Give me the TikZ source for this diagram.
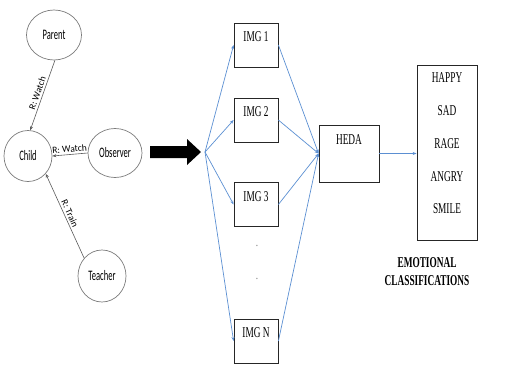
\documentclass[tikz,border=0pt]{standalone}
\usepackage{fontspec}
\setmainfont{Liberation Serif}
\newfontfamily\condserif[FakeStretch=0.62]{Liberation Serif}
\newfontfamily\condsans[FakeStretch=0.59]{Carlito}
\newfontfamily\labsans{Carlito}
\usetikzlibrary{shapes.geometric,arrows.meta}
\definecolor{edgeblue}{RGB}{91,143,210}
\definecolor{greyline}{RGB}{90,90,90}
\begin{document}
\begin{tikzpicture}[x=1pt,y=-1pt,
  person/.style={ellipse,draw=greyline!80,line width=0.7pt,inner sep=0pt,font=\condsans\fontsize{14.5}{16}\selectfont},
  rel/.style={draw=greyline,line width=0.6pt,-{Stealth[length=4pt,width=3pt]}},
  rellab/.style={font=\labsans\fontsize{9.5}{11}\selectfont,sloped,above,inner sep=2pt},
  imgbox/.style={draw=black!85,line width=0.8pt,minimum width=44pt,minimum height=44pt,inner sep=0pt},
  boxtext/.style={font=\condserif\fontsize{15}{17}\selectfont,anchor=north,inner sep=0pt},
  flow/.style={color=edgeblue,line width=0.7pt,-{Stealth[length=4pt,width=3pt]}},
  dotmark/.style={font=\condserif\fontsize{12}{12}\selectfont,text=black!70,inner sep=0pt},
]
\useasboundingbox (0,0) rectangle (520,365);
% left relation graph
\node[person,minimum width=55pt,minimum height=50pt] (parent) at (54,35) {Parent};
\node[person,minimum width=48pt,minimum height=51pt] (child) at (28,156) {Child};
\node[person,minimum width=54pt,minimum height=49pt] (observer) at (115,153) {Observer};
\node[person,minimum width=48pt,minimum height=52pt] (teacher) at (102,276) {Teacher};
\draw[rel] (parent.-88) -- node[rellab] {R: Watch} (child.85);
\draw[rel] (observer.west) -- node[rellab] {R: Watch} (child.east);
\draw[rel] (teacher.135) -- node[rellab] {R: Train} (child.-45);
% big arrow
\fill[black] (150,146) -- (187,146) -- (187,139) -- (201,152) -- (187,165) -- (187,158) -- (150,158) -- cycle;
\coordinate (fan) at (205,152);
% image boxes
\node[imgbox,label={[boxtext,yshift=-9pt]north:IMG 1}] (img1) at (256,45) {};
\node[imgbox,label={[boxtext,yshift=-9pt]north:IMG 2}] (img2) at (256,120) {};
\node[imgbox,label={[boxtext,yshift=-9pt]north:IMG 3}] (img3) at (256,204.5) {};
\node[imgbox,label={[boxtext,yshift=-9pt]north:IMG N}] (imgn) at (256,341) {};
\node[dotmark] (dota) at (257,246) {.};
\node[dotmark] (dotb) at (257,279) {.};
% HEDA
\node[imgbox,minimum width=60pt,minimum height=57pt,label={[boxtext,yshift=-10pt]north:HEDA}] (heda) at (349,153.5) {};
% classifications
\node[imgbox,minimum width=60pt,minimum height=175pt,
  label={[boxtext,align=center,font=\condserif\fontsize{15}{32.8}\selectfont,yshift=-8pt]north:HAPPY\\SAD\\RAGE\\ANGRY\\SMILE}] (cls) at (447,152.5) {};
\node[font=\condserif\bfseries\fontsize{15}{18}\selectfont,align=center] (clscap) at (427,272) {EMOTIONAL\\CLASSIFICATIONS};
% flows
\foreach \n in {img1,img2,img3,imgn}{
  \draw[flow] (fan) -- (\n.west);
  \draw[flow] (\n.east) -- (heda.west);
}
\draw[flow,line width=1.3pt] (heda.east) -- (heda.east -| cls.west);
\end{tikzpicture}
\end{document}
